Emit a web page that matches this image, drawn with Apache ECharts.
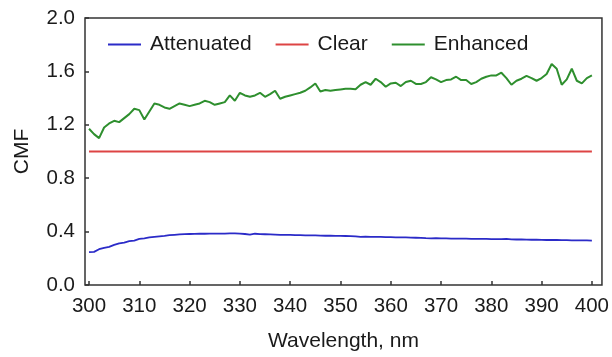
<!DOCTYPE html>
<html>
<head>
<meta charset="utf-8">
<script src="https://cdn.jsdelivr.net/npm/echarts@6/dist/echarts.min.js"></script>
<style>html,body{margin:0;padding:0;background:#fff}#c{width:612px;height:357px}</style>
</head>
<body>
<div id="c"></div>
<script>
const wavelength = [300,301,302,303,304,305,306,307,308,309,310,311,312,313,314,315,316,317,318,319,320,321,322,323,324,325,326,327,328,329,330,331,332,333,334,335,336,337,338,339,340,341,342,343,344,345,346,347,348,349,350,351,352,353,354,355,356,357,358,359,360,361,362,363,364,365,366,367,368,369,370,371,372,373,374,375,376,377,378,379,380,381,382,383,384,385,386,387,388,389,390,391,392,393,394,395,396,397,398,399,400];
const attenuated = [0.246,0.248,0.268,0.278,0.285,0.300,0.312,0.318,0.328,0.333,0.345,0.350,0.356,0.360,0.364,0.368,0.373,0.376,0.379,0.381,0.382,0.383,0.384,0.384,0.385,0.385,0.385,0.385,0.386,0.386,0.385,0.382,0.378,0.384,0.381,0.380,0.379,0.377,0.375,0.376,0.375,0.374,0.373,0.372,0.372,0.371,0.370,0.369,0.369,0.368,0.368,0.367,0.366,0.364,0.360,0.362,0.361,0.360,0.360,0.359,0.358,0.357,0.356,0.356,0.355,0.354,0.353,0.351,0.350,0.351,0.350,0.349,0.348,0.348,0.347,0.347,0.346,0.345,0.346,0.345,0.344,0.343,0.343,0.345,0.342,0.341,0.341,0.340,0.339,0.340,0.338,0.337,0.338,0.337,0.336,0.336,0.335,0.335,0.334,0.334,0.333];
const clear = [1.0,1.0,1.0,1.0,1.0,1.0,1.0,1.0,1.0,1.0,1.0,1.0,1.0,1.0,1.0,1.0,1.0,1.0,1.0,1.0,1.0,1.0,1.0,1.0,1.0,1.0,1.0,1.0,1.0,1.0,1.0,1.0,1.0,1.0,1.0,1.0,1.0,1.0,1.0,1.0,1.0,1.0,1.0,1.0,1.0,1.0,1.0,1.0,1.0,1.0,1.0,1.0,1.0,1.0,1.0,1.0,1.0,1.0,1.0,1.0,1.0,1.0,1.0,1.0,1.0,1.0,1.0,1.0,1.0,1.0,1.0,1.0,1.0,1.0,1.0,1.0,1.0,1.0,1.0,1.0,1.0,1.0,1.0,1.0,1.0,1.0,1.0,1.0,1.0,1.0,1.0,1.0,1.0,1.0,1.0,1.0,1.0,1.0,1.0,1.0,1.0];
const enhanced = [1.17,1.13,1.10,1.18,1.21,1.23,1.22,1.25,1.28,1.32,1.31,1.24,1.30,1.36,1.35,1.33,1.32,1.34,1.36,1.35,1.34,1.35,1.36,1.38,1.37,1.35,1.36,1.37,1.42,1.38,1.44,1.42,1.41,1.42,1.44,1.41,1.43,1.455,1.395,1.41,1.42,1.43,1.44,1.455,1.48,1.51,1.45,1.46,1.455,1.46,1.465,1.47,1.47,1.466,1.50,1.52,1.50,1.545,1.52,1.485,1.51,1.515,1.49,1.52,1.53,1.506,1.506,1.52,1.556,1.54,1.52,1.535,1.54,1.56,1.535,1.535,1.506,1.52,1.545,1.56,1.57,1.57,1.59,1.55,1.50,1.53,1.545,1.566,1.55,1.53,1.55,1.58,1.655,1.62,1.50,1.54,1.62,1.53,1.51,1.55,1.57];
const xTicks = [300,310,320,330,340,350,360,370,380,390,400];

const pairs = arr => wavelength.map((w, i) => [w, arr[i]]);
const font = '"Liberation Sans", Arial, sans-serif';
const txt = '#1a1a1a';
const chart = echarts.init(document.getElementById('c'), null, {renderer: 'canvas'});
chart.setOption({
  animation: false,
  grid: {left: 85, right: 9, top: 18, bottom: 69, show: true, borderColor: '#333', borderWidth: 1.5, backgroundColor: 'transparent'},
  legend: {
    left: 103, top: 29, itemWidth: 33, itemHeight: 14, itemGap: 24,
    icon: 'path://M0,6 L33,6 L33,8 L0,8 Z',
    textStyle: {fontFamily: font, fontSize: 21, color: txt, padding: [0, 0, 0, 4]},
    data: ['Attenuated', 'Clear', 'Enhanced']
  },
  xAxis: {
    type: 'value', min: 299.2, max: 402,
    name: 'Wavelength, nm', nameLocation: 'middle', nameGap: 46,
    nameTextStyle: {fontFamily: font, fontSize: 21, color: txt},
    axisLine: {show: false},
    axisTick: {show: true, inside: true, length: 4, customValues: xTicks, lineStyle: {color: '#333', width: 1.5}},
    axisLabel: {customValues: xTicks, fontFamily: font, fontSize: 20.5, color: txt, margin: 11},
    splitLine: {show: false}
  },
  yAxis: {
    type: 'value', min: 0, max: 2, interval: 0.4,
    name: 'CMF', nameLocation: 'middle', nameGap: 52,
    nameTextStyle: {fontFamily: font, fontSize: 21, color: txt},
    axisLine: {show: false},
    axisTick: {show: true, inside: true, length: 4, lineStyle: {color: '#333', width: 1.5}},
    axisLabel: {fontFamily: font, fontSize: 20.5, color: txt, margin: 10, formatter: v => v.toFixed(1)},
    splitLine: {show: false}
  },
  series: [
    {name: 'Attenuated', type: 'line', data: pairs(attenuated), showSymbol: false, color: '#2b2bc8', lineStyle: {width: 1.8, color: '#2b2bc8'}},
    {name: 'Clear', type: 'line', data: pairs(clear), showSymbol: false, color: '#dd4444', lineStyle: {width: 2, color: '#dd4444'}},
    {name: 'Enhanced', type: 'line', data: pairs(enhanced), showSymbol: false, color: '#2e8f2e', lineStyle: {width: 2, color: '#2e8f2e'}}
  ]
});
</script>
</body>
</html>
